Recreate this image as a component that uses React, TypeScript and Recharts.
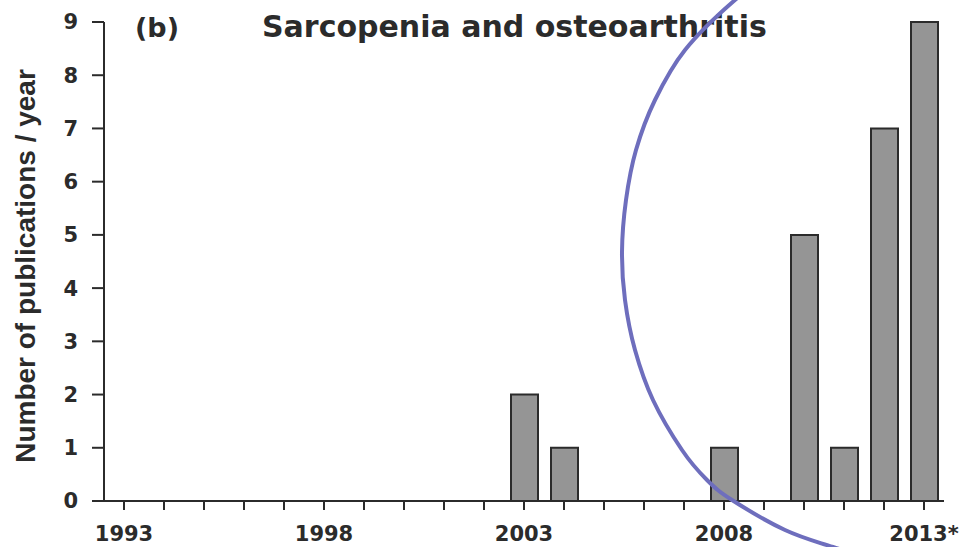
import React from "react";
import { BarChart, Bar, XAxis, YAxis } from "recharts";

// publications per year
const years = [
  "1993", "1994", "1995", "1996", "1997", "1998", "1999", "2000", "2001", "2002",
  "2003", "2004", "2005", "2006", "2007", "2008", "2009", "2010", "2011", "2012", "2013",
];
const publications = [0, 0, 0, 0, 0, 0, 0, 0, 0, 0, 2, 1, 0, 0, 0, 1, 0, 5, 1, 7, 9];
const yTicks = [0, 1, 2, 3, 4, 5, 6, 7, 8, 9];
const xLabels: Record<string, string> = {
  "1993": "1993",
  "1998": "1998",
  "2003": "2003",
  "2008": "2008",
  "2013": "2013*",
};

const data = years.map((year, i) => ({ year, count: publications[i] }));

// hand-drawn highlight loop over the figure, in picture pixels
const loop: [number, number][] = [
  [766, -20], [735, 0], [685, 50], [655, 100], [636, 150], [626, 200], [622, 252],
  [625, 300], [635, 350], [653, 400], [682, 450], [707, 480], [732, 500],
  [785, 530], [833, 547], [900, 567],
];

const smoothPath = (pts: [number, number][]) => {
  let d = `M${pts[0][0]},${pts[0][1]}`;
  for (let i = 0; i < pts.length - 1; i++) {
    const p0 = pts[i - 1] || pts[i];
    const p1 = pts[i];
    const p2 = pts[i + 1];
    const p3 = pts[i + 2] || p2;
    d += ` C${p1[0] + (p2[0] - p0[0]) / 6},${p1[1] + (p2[1] - p0[1]) / 6}`;
    d += ` ${p2[0] - (p3[0] - p1[0]) / 6},${p2[1] - (p3[1] - p1[1]) / 6}`;
    d += ` ${p2[0]},${p2[1]}`;
  }
  return d;
};

const ink = "#2b2b2b";
const boldFont = "'DejaVu Sans', sans-serif";

const App = () => {
  return (
    <div style={{ position: "absolute", left: 0, top: 0, width: 961, height: 547, background: "#fff", overflow: "hidden" }}>
      <BarChart
        width={961}
        height={547}
        data={data}
        margin={{ top: 22, right: 17, left: 0, bottom: 0 }}
        barSize={27}
      >
        <XAxis
          dataKey="year"
          interval={0}
          height={46}
          tickSize={9}
          tickMargin={16}
          tickFormatter={(v) => xLabels[v] || ""}
          axisLine={{ stroke: ink, strokeWidth: 2 }}
          tickLine={{ stroke: ink, strokeWidth: 2 }}
          tick={{ fill: ink, fontFamily: boldFont, fontWeight: "bold", fontSize: 21 }}
        />
        <YAxis
          width={104}
          domain={[0, 9]}
          ticks={yTicks}
          interval={0}
          tickSize={12}
          tickMargin={14}
          axisLine={{ stroke: ink, strokeWidth: 2 }}
          tickLine={{ stroke: ink, strokeWidth: 2 }}
          tick={{ fill: ink, fontFamily: boldFont, fontWeight: "bold", fontSize: 21 }}
        />
        <Bar
          dataKey="count"
          fill="#959595"
          stroke={ink}
          strokeWidth={2}
          isAnimationActive={false}
        />
      </BarChart>
      <svg
        width={961}
        height={547}
        style={{ position: "absolute", left: 0, top: 0, pointerEvents: "none" }}
      >
        <text x={135} y={37} fill={ink} fontFamily={boldFont} fontWeight="bold" fontSize={27}>
          (b)
        </text>
        <text x={262} y={37} fill={ink} fontFamily={boldFont} fontWeight="bold" fontSize={30}>
          Sarcopenia and osteoarthritis
        </text>
        <text
          x={25}
          y={266}
          transform="rotate(-90 25 266)"
          textAnchor="middle"
          dominantBaseline="central"
          fill={ink}
          fontFamily="'Liberation Sans', Arial, sans-serif"
          fontWeight="bold"
          fontSize={28}
        >
          Number of publications / year
        </text>
        <path d={smoothPath(loop)} fill="none" stroke="#6e6ebd" strokeWidth={4} />
      </svg>
    </div>
  );
};

export default App;
